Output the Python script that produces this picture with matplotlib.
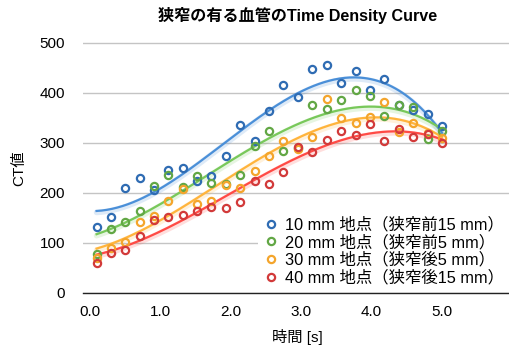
import numpy as np
import matplotlib
matplotlib.use('Agg')
import matplotlib.pyplot as plt

plt.rcParams['font.family'] = ['Liberation Sans', 'Noto Sans CJK JP', 'DejaVu Sans']

# time [s]
t = [0.10, 0.30, 0.51, 0.71, 0.92, 1.12, 1.33, 1.53, 1.73, 1.94, 2.14, 2.35, 2.55,
     2.75, 2.96, 3.16, 3.37, 3.57, 3.78, 3.98, 4.18, 4.39, 4.59, 4.80, 5.00]

ct_10mm = [132, 152, 210, 230, 207, 247, 250, 225, 235, 275, 337, 304, 365,
           417, 392, 449, 457, 421, 445, 407, 429, 377, 367, 359, 335]
ct_20mm = [79, 129, 142, 164, 214, 237, 212, 235, 220, 219, 237, 295, 325,
           285, 290, 377, 369, 387, 407, 395, 355, 377, 372, 309, 325]
ct_30mm = [71, 91, 103, 142, 155, 185, 209, 179, 184, 217, 211, 245, 275,
           304, 289, 313, 389, 351, 340, 352, 382, 322, 340, 320, 311]
ct_40mm = [60, 80, 87, 115, 147, 153, 157, 165, 172, 171, 183, 225, 219,
           242, 292, 283, 307, 325, 316, 338, 305, 329, 313, 318, 301]

labels = ['10 mm 地点（狭窄前15 mm）', '20 mm 地点（狭窄前5 mm）',
          '30 mm 地点（狭窄後5 mm）', '40 mm 地点（狭窄後15 mm）']
mcolors = ['#2f6cb3', '#62a745', '#f4a52c', '#d23a3a']
lcolors = ['#4a8fd8', '#78c85a', '#ffb43c', '#ff4a45']

fig = plt.figure(figsize=(5.09, 3.49), dpi=100)
ax = fig.add_axes([83/509, 56/349, 426/509, 252/349])

tt = np.linspace(t[0], t[-1], 200)
for ys, lab, mc, lc in zip([ct_10mm, ct_20mm, ct_30mm, ct_40mm], labels, mcolors, lcolors):
    # polynomial trend line (order 3)
    p = np.polyfit(t, ys, 3)
    fit = np.polyval(p, tt)
    ax.plot(tt, fit - 3, color=lc, lw=4, alpha=0.18, solid_capstyle='round', zorder=2)
    ax.plot(tt, fit, color=lc, lw=1.6, zorder=3)
    ax.plot(t, ys, 'o', ms=5.2, mfc='none', mec=mc, mew=1.6, label=lab, zorder=4)

ax.set_xlim(-0.092, 5.95)
ax.set_ylim(0, 504)
ax.set_xticks([0, 1, 2, 3, 4, 5])
ax.set_xticklabels(['0.0', '1.0', '2.0', '3.0', '4.0', '5.0'])
ax.set_yticks([0, 100, 200, 300, 400, 500])
ax.tick_params(axis='y', length=0, pad=13, labelsize=11)
ax.tick_params(axis='x', length=0, pad=9, labelsize=11)
ax.grid(axis='y', color='#c4c4c4', lw=1)
ax.set_axisbelow(True)
for s in ['left', 'right', 'top']:
    ax.spines[s].set_visible(False)
ax.spines['bottom'].set_color('#222222')
ax.spines['bottom'].set_linewidth(1)

leg = ax.legend(loc='upper left', bbox_to_anchor=(258/509, 1 - 212/349),
                bbox_transform=fig.transFigure, fontsize=11.8, frameon=True,
                handletextpad=0.35, labelspacing=0.12, handlelength=1.0,
                borderpad=0.3, borderaxespad=0)
leg.get_frame().set_facecolor('white')
leg.get_frame().set_edgecolor('none')
leg.get_frame().set_alpha(1)

fig.text(298/509, 1 - 16/349, '狭窄の有る血管のTime Density Curve', ha='center', va='center',
         fontsize=11.6, fontweight='bold')
fig.text(297/509, 1 - 337/349, '時間 [s]', ha='center', va='center', fontsize=11)
fig.text(19/509, 1 - 168/349, 'CT値', ha='center', va='center', rotation=90, fontsize=11)

fig.savefig('out.png', dpi=100)
